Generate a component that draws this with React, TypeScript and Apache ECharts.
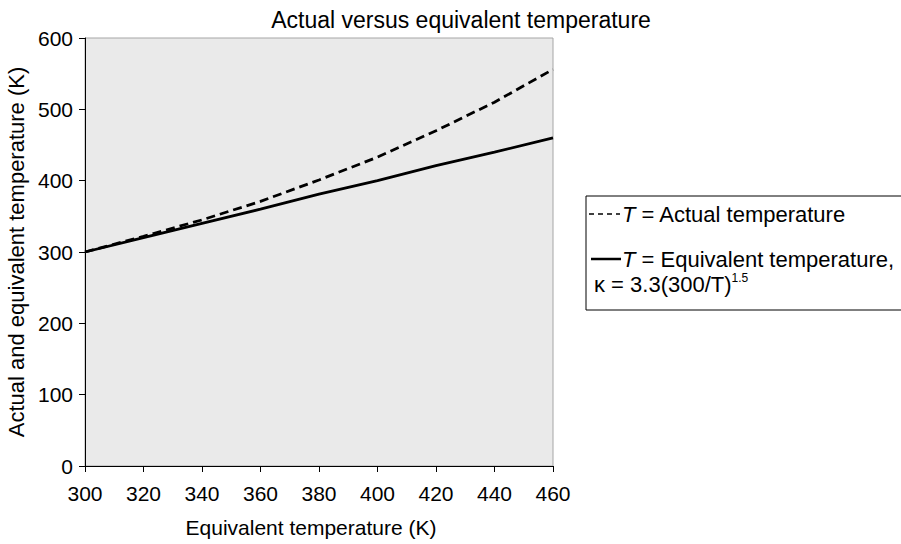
import React, { useEffect, useRef } from "react";
import * as echarts from "echarts";

const xCategories = [300, 320, 340, 360, 380, 400, 420, 440, 460];
const actualTemp = [300, 322, 345, 371, 401, 433, 470, 510, 556];
const equivalentTemp = [300, 320, 340, 360, 381, 400, 421, 440, 460];
const yTicks = { min: 0, max: 600, interval: 100 };
const xTicks = { min: 300, max: 460, interval: 20 };

const FONT = "'Liberation Sans', Arial, sans-serif";

export default function App() {
  const ref = useRef<HTMLDivElement>(null);
  useEffect(() => {
    document.body.style.margin = "0";
    const chart = echarts.init(ref.current!, null, { renderer: "svg" });
    const tickFs = 21;
    const nameFs = 22;
    const legFs = 22;
    chart.setOption({
      animation: false,
      backgroundColor: "#ffffff",
      textStyle: { fontFamily: FONT, color: "#000" },
      title: {
        text: "Actual versus equivalent temperature",
        left: 456,
        top: 3,
        textAlign: "center",
        textStyle: { fontFamily: FONT, fontSize: 23, fontWeight: "normal", color: "#000" },
      },
      grid: {
        left: 85,
        top: 38,
        right: 348,
        bottom: 78,
        outerBoundsMode: "none",
        containLabel: false,
        show: true,
        backgroundColor: "#eaeaea",
        borderColor: "#a6a6a6",
        borderWidth: 1,
      },
      xAxis: {
        type: "value",
        min: xTicks.min,
        max: xTicks.max,
        interval: xTicks.interval,
        name: "Equivalent temperature (K)",
        nameLocation: "middle",
        nameGap: 51,
        nameTextStyle: { fontFamily: FONT, fontSize: 21, color: "#000", padding: [0, 16, 0, 0] },
        axisLine: { lineStyle: { color: "#000", width: 1 } },
        axisTick: { show: true, inside: false, length: 6, lineStyle: { color: "#000" } },
        axisLabel: { fontFamily: FONT, fontSize: tickFs, color: "#000", margin: 17 },
        splitLine: { show: false },
      },
      yAxis: {
        type: "value",
        min: yTicks.min,
        max: yTicks.max,
        interval: yTicks.interval,
        name: "Actual and equivalent temperature (K)",
        nameLocation: "middle",
        nameGap: 55,
        nameTextStyle: { fontFamily: FONT, fontSize: nameFs, color: "#000" },
        axisLine: { show: true, lineStyle: { color: "#000", width: 1 } },
        axisTick: { show: true, inside: false, length: 6, lineStyle: { color: "#000" } },
        axisLabel: { fontFamily: FONT, fontSize: tickFs, color: "#000", margin: 12 },
        splitLine: { show: false },
      },
      series: [
        {
          name: "Actual temperature",
          type: "line",
          data: xCategories.map((x, i) => [x, actualTemp[i]]),
          showSymbol: false,
          symbol: "none",
          lineStyle: { color: "#000", width: 2.8, type: [9, 5] },
          z: 3,
        },
        {
          name: "Equivalent temperature",
          type: "line",
          data: xCategories.map((x, i) => [x, equivalentTemp[i]]),
          showSymbol: false,
          symbol: "none",
          lineStyle: { color: "#000", width: 2.8, type: "solid" },
          z: 4,
        },
      ],
      graphic: [
        {
          type: "rect",
          shape: { x: 586, y: 196, width: 330, height: 114 },
          style: { fill: "#fff", stroke: "#000", lineWidth: 1 },
        },
        {
          type: "line",
          shape: { x1: 589, y1: 214, x2: 620, y2: 214 },
          style: { stroke: "#000", lineWidth: 1.5, lineDash: [5, 4] },
        },
        {
          type: "line",
          shape: { x1: 591, y1: 259, x2: 621, y2: 259 },
          style: { stroke: "#000", lineWidth: 2.5 },
        },
        {
          type: "text",
          x: 622,
          y: 214,
          style: {
            text: "{i|T} = Actual temperature",
            fontFamily: FONT,
            fontSize: legFs,
            fill: "#000",
            verticalAlign: "middle",
            rich: { i: { fontStyle: "italic", fontFamily: FONT, fontSize: legFs } },
          },
        },
        {
          type: "text",
          x: 622,
          y: 259,
          style: {
            text: "{i|T} = Equivalent temperature,",
            fontFamily: FONT,
            fontSize: legFs,
            fill: "#000",
            verticalAlign: "middle",
            rich: { i: { fontStyle: "italic", fontFamily: FONT, fontSize: legFs } },
          },
        },
        {
          type: "text",
          x: 594,
          y: 284,
          style: {
            text: "κ = 3.3(300/T){s|1.5}",
            fontFamily: FONT,
            fontSize: legFs,
            fill: "#000",
            verticalAlign: "middle",
            rich: {
              s: { fontFamily: FONT, fontSize: 12, verticalAlign: "top", padding: [0, 0, 13, 0] },
            },
          },
        },
      ],
    });
    return () => chart.dispose();
  }, []);
  return <div ref={ref} style={{ width: 901, height: 544 }} />;
}
